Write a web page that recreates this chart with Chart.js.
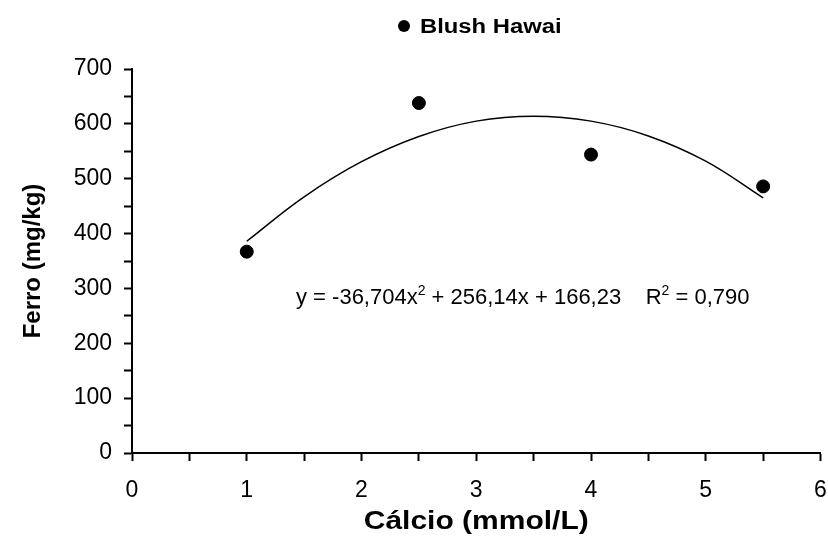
<!DOCTYPE html>
<html>
<head>
<meta charset="utf-8">
<script src="https://cdn.jsdelivr.net/npm/chart.js@4.4.0/dist/chart.umd.min.js"></script>
<style>
  html, body { margin: 0; padding: 0; background: #fff; }
  #wrap { width: 828px; height: 544px; }
</style>
</head>
<body>
<div id="wrap"><canvas id="ferroChart"></canvas></div>
<script>
// measured points (Cálcio vs Ferro)
const calcio = [1, 2.5, 4, 5.5];
const ferro = [367, 638, 544, 486];

// trend line
const trendX = [1, 1.5, 2, 2.5, 3, 3.5, 4, 4.5, 5, 5.5];
const trendY = [386, 467, 531, 577, 605, 614, 605, 578, 532, 465];

const seriesName = 'Blush Hawai';
const xTitle = 'Cálcio (mmol/L)';
const yTitle = 'Ferro (mg/kg)';
const eqParts = ['y = -36,704x', '2', ' + 256,14x + 166,23    R', '2', ' = 0,790'];

const FONT = '"Liberation Sans", Arial, sans-serif';

// text in the original is a bit wider than the font, so stretch it sideways
function wideText(ctx, text, x, y, sx) {
  ctx.save();
  ctx.translate(x, y);
  ctx.scale(sx, 1);
  ctx.fillText(text, 0, 0);
  ctx.restore();
}

// legend, x title and equation drawn by hand
const extraText = {
  id: 'extraText',
  afterDraw(chart) {
    const ctx = chart.ctx;
    ctx.save();
    ctx.fillStyle = '#000';
    ctx.textBaseline = 'middle';

    // legend
    ctx.beginPath();
    ctx.arc(404, 26, 6, 0, Math.PI * 2);
    ctx.fill();
    ctx.font = 'bold 20px ' + FONT;
    ctx.textAlign = 'left';
    wideText(ctx, seriesName, 420, 27, 1.19);

    // x axis title
    ctx.font = 'bold 25px ' + FONT;
    ctx.textAlign = 'center';
    wideText(ctx, xTitle, (chart.chartArea.left + chart.chartArea.right) / 2, 522, 1.2);

    // equation with superscripts
    ctx.textAlign = 'left';
    let x = 296;
    eqParts.forEach((part, i) => {
      const sup = i % 2 === 1;
      ctx.font = (sup ? '14px ' : '22px ') + FONT;
      ctx.fillText(part, x, sup ? 291 : 298);
      x += ctx.measureText(part).width;
    });
    ctx.restore();
  }
};

const ctx = document.getElementById('ferroChart').getContext('2d');
new Chart(ctx, {
  type: 'scatter',
  data: {
    datasets: [{
      label: seriesName,
      data: calcio.map((c, i) => ({ x: c, y: ferro[i] })),
      backgroundColor: '#000',
      borderColor: '#000',
      pointRadius: 6.5,
      pointHoverRadius: 6.5
    }, {
      label: 'trend',
      data: trendX.map((c, i) => ({ x: c, y: trendY[i] })),
      showLine: true,
      borderColor: '#000',
      borderWidth: 1.5,
      pointRadius: 0,
      tension: 0.4,
      fill: false
    }]
  },
  options: {
    responsive: true,
    maintainAspectRatio: false,
    animation: false,
    layout: { padding: { top: 69, right: 6, bottom: 0, left: 0 } },
    plugins: {
      legend: { display: false },
      tooltip: { enabled: false }
    },
    scales: {
      x: {
        type: 'linear',
        min: 0,
        max: 6,
        afterFit: s => { s.height = 91; s.paddingRight = 0; },
        ticks: {
          stepSize: 0.5,
          color: '#000',
          padding: 16,
          maxRotation: 0,
          autoSkip: false,
          font: { family: FONT, size: 23 },
          callback: v => (Number.isInteger(v) ? v : '')
        },
        grid: {
          drawOnChartArea: false,
          color: '#000',
          tickLength: 8,
          tickWidth: 2
        },
        border: { color: '#000', width: 2 }
      },
      y: {
        min: 0,
        max: 700,
        afterFit: s => { s.width = 132; },
        ticks: {
          stepSize: 50,
          color: '#000',
          padding: 12,
          autoSkip: false,
          font: { family: FONT, size: 23 },
          callback: v => (v % 100 === 0 ? v : '')
        },
        grid: {
          drawOnChartArea: false,
          color: '#000',
          tickLength: 8,
          tickWidth: 2
        },
        border: { color: '#000', width: 2 },
        title: {
          display: true,
          text: yTitle,
          color: '#000',
          font: { family: FONT, size: 24, weight: 'bold' },
          padding: { top: 19, bottom: 0 }
        }
      }
    }
  },
  plugins: [extraText]
});
</script>
</body>
</html>
